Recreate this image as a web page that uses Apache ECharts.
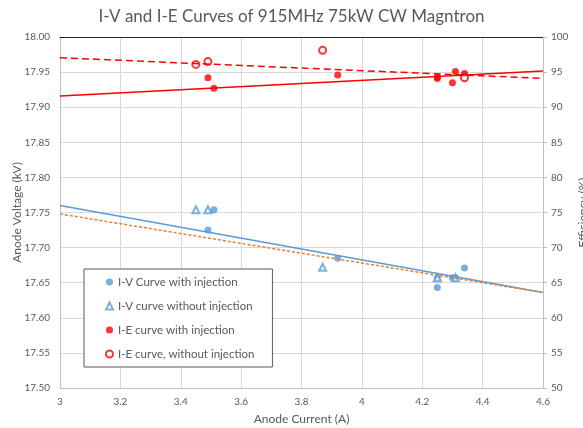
<!DOCTYPE html>
<html>
<head>
<meta charset="utf-8">
<script src="https://cdn.jsdelivr.net/npm/echarts@6/dist/echarts.min.js"></script>
<style>
  html, body { margin: 0; padding: 0; background: #fff; }
  #chart { width: 583px; height: 428px; }
</style>
</head>
<body>
<div id="chart"></div>
<script>
// measured points: [anode current (A), value]
const ivWithInj = [[3.49, 17.725], [3.51, 17.754], [3.92, 17.685], [4.25, 17.643], [4.25, 17.657], [4.30, 17.657], [4.31, 17.657], [4.34, 17.671]];
const ivWithoutInj = [[3.45, 17.754], [3.49, 17.754], [3.87, 17.672], [4.25, 17.657], [4.31, 17.657]];
const ieWithInj = [[3.49, 94.2], [3.51, 92.7], [3.92, 94.6], [4.25, 94.1], [4.25, 94.3], [4.30, 93.5], [4.31, 95.1], [4.34, 94.8]];
const ieWithoutInj = [[3.45, 96.1], [3.49, 96.5], [3.87, 98.1], [4.34, 94.2]];

// linear trend lines (endpoints at x = 3 and x = 4.6)
const ivWithTrend = [[3, 17.760], [4.6, 17.636]];
const ivWithoutTrend = [[3, 17.748], [4.6, 17.636]];
const ieWithTrend = [[3, 91.6], [4.6, 95.15]];
const ieWithoutTrend = [[3, 97.05], [4.6, 94.1]];

const legendNames = ['I-V Curve with injection', 'I-V curve without injection', 'I-E curve with injection', 'I-E curve, without injection'];

const blue = '#5B9BD5';
const orange = '#ED7D31';
const red = '#FF0000';
const txt = '#595959';
const font = 'Lato';

const chart = echarts.init(document.getElementById('chart'));

const option = {
  animation: false,
  textStyle: { fontFamily: font },
  title: {
    text: 'I-V and I-E Curves of 915MHz 75kW CW Magntron',
    left: 'center',
    top: 3,
    textStyle: { fontFamily: font, fontSize: 17, fontWeight: 'normal', color: txt }
  },
  grid: { left: 60, right: 40, top: 37, bottom: 40, outerBoundsMode: 'none', containLabel: false },
  legend: {
    data: legendNames,
    orient: 'vertical',
    left: 84,
    top: 269,
    itemWidth: 7,
    itemHeight: 7,
    itemGap: 12,
    padding: [7, 18, 7, 21],
    borderColor: '#595959',
    borderWidth: 1,
    backgroundColor: '#fff',
    textStyle: { fontFamily: font, fontSize: 11.5, color: txt }
  },
  xAxis: [{
    type: 'value',
    min: 3,
    max: 4.6,
    interval: 0.2,
    name: 'Anode Current (A)',
    nameLocation: 'middle',
    nameGap: 25,
    nameTextStyle: { fontFamily: font, fontSize: 12, color: txt },
    axisLine: { show: true, lineStyle: { color: '#bfbfbf' } },
    axisTick: { show: false },
    axisLabel: { color: txt, fontSize: 10, margin: 9 },
    splitLine: { show: true, lineStyle: { color: '#d9d9d9' } }
  }, {
    type: 'value',
    position: 'top',
    min: 3,
    max: 4.6,
    axisLine: { show: true, lineStyle: { color: '#262626' } },
    axisTick: { show: false },
    axisLabel: { show: false },
    splitLine: { show: false }
  }],
  yAxis: [{
    type: 'value',
    min: 17.5,
    max: 18,
    interval: 0.05,
    name: 'Anode Voltage (kV)',
    nameLocation: 'middle',
    nameGap: 37,
    nameMoveOverlap: false,
    nameTextStyle: { fontFamily: font, fontSize: 12, color: txt },
    axisLine: { show: true, lineStyle: { color: '#bfbfbf' } },
    axisTick: { show: false },
    axisLabel: { color: txt, fontSize: 10, margin: 10, formatter: v => v.toFixed(2) },
    splitLine: { show: true, lineStyle: { color: '#d9d9d9' } }
  }, {
    type: 'value',
    min: 50,
    max: 100,
    interval: 5,
    name: 'Efficiency (%)',
    nameLocation: 'middle',
    nameRotate: 90,
    nameGap: 34,
    nameMoveOverlap: false,
    nameTextStyle: { fontFamily: font, fontSize: 12, color: txt },
    axisLine: { show: true, lineStyle: { color: '#bfbfbf' } },
    axisTick: { show: true, length: 4, lineStyle: { color: '#bfbfbf' } },
    axisLabel: { color: txt, fontSize: 10, margin: 8 },
    splitLine: { show: false }
  }],
  series: [
    {
      name: 'I-V trend with injection', type: 'line', yAxisIndex: 0, data: ivWithTrend,
      showSymbol: false, silent: true, lineStyle: { color: blue, width: 1.5 }
    },
    {
      name: 'I-V trend without injection', type: 'line', yAxisIndex: 0, data: ivWithoutTrend,
      showSymbol: false, silent: true, lineStyle: { color: orange, width: 1.5, type: [3, 2] }
    },
    {
      name: 'I-E trend with injection', type: 'line', yAxisIndex: 1, data: ieWithTrend,
      showSymbol: false, silent: true, lineStyle: { color: red, width: 1.5 }
    },
    {
      name: 'I-E trend without injection', type: 'line', yAxisIndex: 1, data: ieWithoutTrend,
      showSymbol: false, silent: true, lineStyle: { color: red, width: 1.5, type: [7, 4] }
    },
    {
      name: legendNames[0], type: 'scatter', yAxisIndex: 0, data: ivWithInj,
      symbol: 'circle', symbolSize: 7, itemStyle: { color: blue }
    },
    {
      name: legendNames[1], type: 'scatter', yAxisIndex: 0, data: ivWithoutInj,
      symbol: 'emptyTriangle', symbolSize: 7, itemStyle: { color: blue, borderColor: blue, borderWidth: 1 }
    },
    {
      name: legendNames[2], type: 'scatter', yAxisIndex: 1, data: ieWithInj,
      symbol: 'circle', symbolSize: 7, itemStyle: { color: red }
    },
    {
      name: legendNames[3], type: 'scatter', yAxisIndex: 1, data: ieWithoutInj,
      symbol: 'emptyCircle', symbolSize: 7, itemStyle: { color: red, borderColor: red, borderWidth: 1 }
    }
  ]
};

chart.setOption(option);
</script>
</body>
</html>
